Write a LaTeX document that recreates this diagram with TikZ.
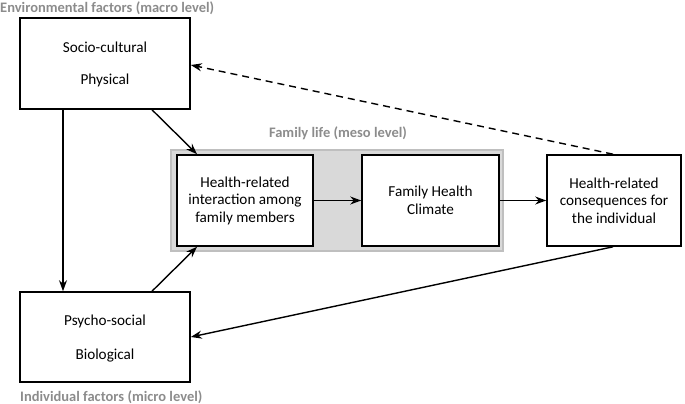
\documentclass[tikz,border=0pt]{standalone}
\usepackage{fontspec}
\setmainfont{Carlito}
\usetikzlibrary{arrows.meta}
\definecolor{lblgray}{HTML}{8C8C8C}
\definecolor{panelfill}{HTML}{D9D9D9}
\definecolor{panelline}{HTML}{BFBFBF}
\begin{document}
\begin{tikzpicture}[x=1pt,y=-1pt,
  txt/.style={font=\fontsize{15.2}{17.5}\selectfont,inner sep=0pt},
  box/.style={draw=black,line width=1.6pt,fill=white,inner sep=0pt,align=center,
    font=\fontsize{15.2}{17.5}\selectfont},
  lvl/.style={text=lblgray,font=\fontsize{14.5}{16}\selectfont\bfseries,inner sep=0pt},
  conn/.style={line width=1.4pt,-{Stealth[length=11pt,width=8pt]}}]
\useasboundingbox (0,0) rectangle (685,404);
% panel
\node[draw=panelline,fill=panelfill,line width=1.6pt,minimum width=332pt,minimum height=101pt,inner sep=0pt] (panel) at (337,200.5) {};
% boxes
\node[box,minimum width=170pt,minimum height=91pt] (env) at (105,63.5) {};
\node[txt] (env1) at (105,47) {Socio-cultural};
\node[txt] (env2) at (105,80) {Physical};
\node[box,minimum width=170pt,minimum height=90pt] (ind) at (105,337) {};
\node[txt] (ind1) at (105,321) {Psycho-social};
\node[txt] (ind2) at (105,356) {Biological};
\node[box,minimum width=136pt,minimum height=91pt] (inter) at (245,200.5) {Health-related\\interaction among\\family members};
\node[box,minimum width=137pt,minimum height=91pt] (fhc) at (430.5,200.5) {Family Health\\Climate};
\node[box,minimum width=134pt,minimum height=91pt] (cons) at (614,200.5) {Health-related\\consequences for\\the individual};
% labels
\node[lvl,anchor=west] (envlbl) at (0,8) {Environmental factors (macro level)};
\node[lvl] (famlbl) at (338,133) {Family life (meso level)};
\node[lvl,anchor=west] (indlbl) at (20,397) {Individual factors (micro level)};
% connectors
\draw[conn] (env.south -| 63,0) -- (ind.north -| 63,0);
\draw[conn] (env.south -| 152,0) -- (inter.north -| 197,0);
\draw[conn] (ind.north -| 152,0) -- (inter.south -| 197,0);
\draw[conn] (inter.east) -- (fhc.west);
\draw[conn] (fhc.east) -- (cons.west);
\draw[conn,dashed,dash pattern=on 7pt off 5pt] (cons.north -| 613,0) -- (env.east |- 0,65);
\draw[conn] (cons.south -| 613,0) -- (ind.east |- 0,337);
\end{tikzpicture}
\end{document}
